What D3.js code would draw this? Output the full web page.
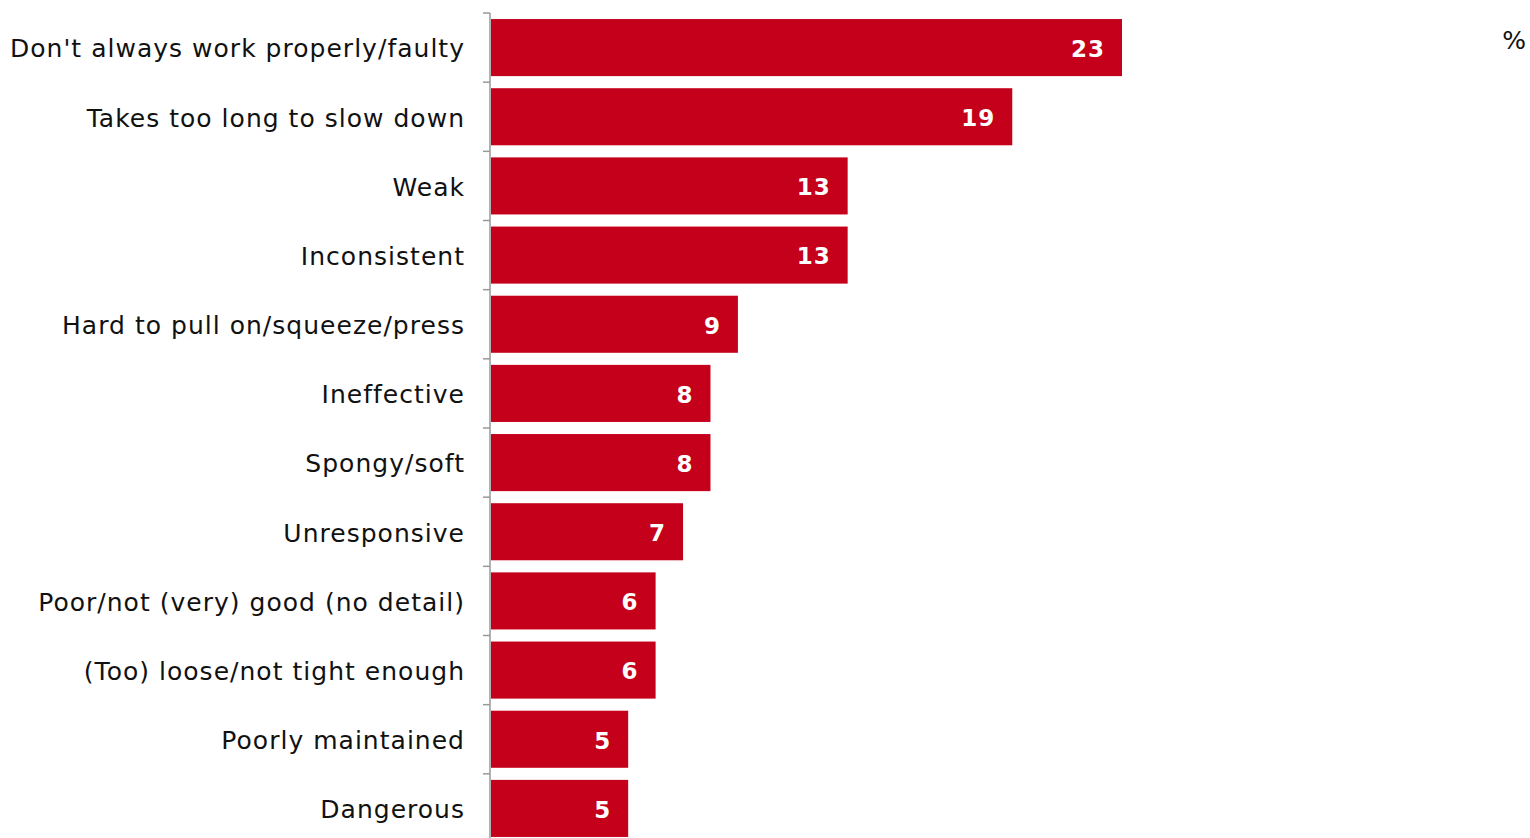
<!DOCTYPE html>
<html><head><meta charset="utf-8">
<script src="https://cdn.jsdelivr.net/npm/d3@7"></script>
<style>body{margin:0;background:#fff}svg{display:block}</style>
</head><body>
<script>
const categories = ["Don't always work properly/faulty","Takes too long to slow down","Weak","Inconsistent","Hard to pull on/squeeze/press","Ineffective","Spongy/soft","Unresponsive","Poor/not (very) good (no detail)","(Too) loose/not tight enough","Poorly maintained","Dangerous"];
const values = [23,19,13,13,9,8,8,7,6,6,5,5];
const unitLabel = "%";

const W = 1530, H = 838;
const svg = d3.select("body").append("svg").attr("width", W).attr("height", H);
const x0 = 491;
const x = d3.scaleLinear().domain([0, 23]).range([x0, 1122]);
const y = d3.scaleBand().domain(categories).range([13, 843]).paddingInner(0.175).paddingOuter(0.0875);
const font = "'DejaVu Sans', Verdana, sans-serif";

svg.selectAll("rect.bar").data(values).join("rect")
  .attr("x", x0).attr("y", (d,i)=>y(categories[i]))
  .attr("width", d=>x(d)-x0).attr("height", y.bandwidth())
  .attr("fill", "#C4001A");

svg.selectAll("text.val").data(values).join("text")
  .attr("x", d=>x(d)-17).attr("y", (d,i)=>y(categories[i])+y.bandwidth()/2+1)
  .attr("dy","0.36em").attr("text-anchor","end")
  .attr("fill","#fff").attr("font-family",font).attr("font-weight","bold").attr("font-size",23)
  .attr("letter-spacing", 1)
  .text(d=>d);

// axis
const step = y.step();
const ax = svg.append("g");
ax.append("line").attr("x1",490).attr("x2",490).attr("y1",13).attr("y2",H).attr("stroke","#999").attr("stroke-width",1.5);
const tickYs = d3.range(categories.length+1).map(i=>13+i*step);
ax.selectAll("line.t").data(tickYs).join("line")
  .attr("x1",483).attr("x2",490).attr("y1",d=>d).attr("y2",d=>d).attr("stroke","#999").attr("stroke-width",1.5);

const labels = svg.selectAll("text.cat").data(categories).join("text")
  .attr("y",d=>y(d)+y.bandwidth()/2+1).attr("dy","0.35em")
  .attr("text-anchor","end").attr("font-family",font).attr("font-size",25).attr("fill","#111")
  .text(d=>d);
// widen spacing so the longest label spans like the reference
const first = labels.node();
const w0 = first.getComputedTextLength();
const ls = Math.max(0, (454 - w0) / (categories[0].length - 1));
labels.attr("letter-spacing", ls).attr("x", 464 + ls);

svg.append("text").attr("x",1526).attr("y",40).attr("dy","0.35em").attr("text-anchor","end")
  .attr("font-family",font).attr("font-size",25).attr("fill","#111").text(unitLabel);
</script>
</body></html>
